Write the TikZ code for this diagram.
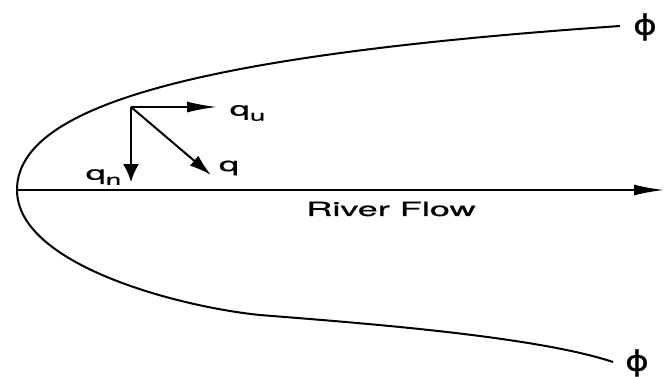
\documentclass[tikz,border=0pt]{standalone}
\usepackage{fontspec}
\setmainfont[FakeBold=0.6]{TeX Gyre Heros}
\newfontfamily\phifont[FakeBold=0.4]{DejaVu Sans}
\usetikzlibrary{arrows.meta}
\newcommand{\lowsub}[1]{\raisebox{-0.5ex}{\fontsize{15}{16}\selectfont #1}}

\begin{document}
\begin{tikzpicture}[x=1pt,y=1pt,yscale=-1,xscale=1,
  flow/.style={line width=2pt},
  lbl/.style={inner sep=0.75pt,xscale=1.85,font=\fontsize{19.5}{21}\selectfont},
  phil/.style={inner sep=0.75pt,xscale=1.3,font=\phifont\fontsize{28}{30}\selectfont},
  hhead/.style={-{Latex[length=30pt,width=11pt]}},
  vhead/.style={-{Latex[length=18pt,width=16pt]}},
  dhead/.style={-{Latex[length=22pt,width=13pt]}}]
\useasboundingbox (0,0) rectangle (665,376);

%Points
\coordinate (v) at (17,190);
\coordinate (ax) at (664,190);
\coordinate (top) at (620,26);
\coordinate (low) at (260,315);
\coordinate (bot) at (613,362);
\coordinate (o) at (131,107);
\coordinate (qu) at (217,107);
\coordinate (qn) at (131,182);
\coordinate (qd) at (211,175);

%Curve Lines
\draw[flow] (top) .. controls (200,55) and (17,105) .. (v)
  .. controls (17,265) and (180,307) .. (low)
  .. controls (360,323) and (535,336) .. (bot);
%Straight Lines
\draw[flow,hhead] (v) -- (ax);
\draw[flow,hhead] (o) -- (qu);
\draw[flow,vhead] (o) -- (qn);
\draw[flow,dhead] (o) -- (qd);

% Text Node
\node[lbl] (flowlbl) at (391,209) {River Flow};
% Text Node
\node[lbl,anchor=west] (qulbl) at (228,113) {q\lowsub{u}};
% Text Node
\node[lbl,anchor=east] (qnlbl) at (123,177) {q\lowsub{n}};
% Text Node
\node[lbl] (qlbl) at (229,168) {q};
% Text Node
\node[phil] (phitop) at (645,27) {ϕ};
% Text Node
\node[phil] (phibot) at (637,363) {ϕ};

\end{tikzpicture}
\end{document}
